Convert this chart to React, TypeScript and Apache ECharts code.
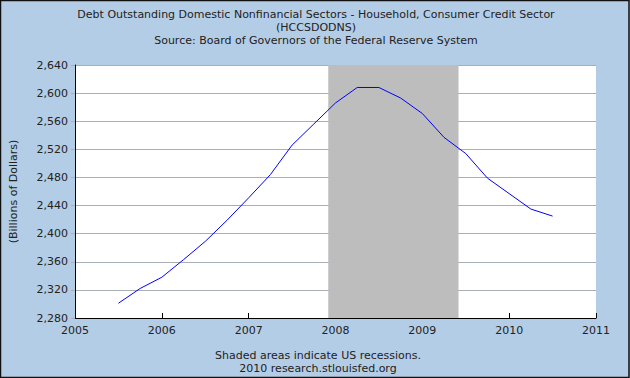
import React, { useEffect, useRef } from "react";
import * as echarts from "echarts";

const titleLines = [
  "Debt Outstanding Domestic Nonfinancial Sectors - Household, Consumer Credit Sector",
  "(HCCSDODNS)",
  "Source: Board of Governors of the Federal Reserve System",
];
const footerLines = ["Shaded areas indicate US recessions.", "2010 research.stlouisfed.org"];
const yAxisName = "(Billions of Dollars)";

const dates = [
  "2005-07-01", "2005-10-01", "2006-01-01", "2006-04-01", "2006-07-01", "2006-10-01",
  "2007-01-01", "2007-04-01", "2007-07-01", "2007-10-01", "2008-01-01", "2008-04-01",
  "2008-07-01", "2008-10-01", "2009-01-01", "2009-04-01", "2009-07-01", "2009-10-01",
  "2010-01-01", "2010-04-01", "2010-07-01",
];
const values = [
  2301, 2322, 2338, 2363, 2389, 2419, 2451, 2484, 2526, 2556, 2586, 2608, 2608, 2593,
  2571, 2537, 2514, 2479, 2457, 2435, 2425,
];
const recessions = [["2007-12-01", "2009-06-01"]];
const xMin = 2005;
const xMax = 2011;
const yMin = 2280;
const yMax = 2640;
const yStep = 40;

function toYear(s: string): number {
  const [y, m, d] = s.split("-").map(Number);
  return y + (m - 1) / 12 + (d - 1) / 365;
}

const font = "DejaVu Sans, Verdana, sans-serif";

export default function App() {
  const ref = useRef<HTMLDivElement>(null);
  useEffect(() => {
    if (!ref.current) return;
    const chart = echarts.init(ref.current, undefined, { renderer: "svg" });
    chart.setOption({
      animation: false,
      backgroundColor: "#B4CDE6",
      textStyle: { fontFamily: font },
      grid: {
        left: 66,
        top: 65,
        right: 34,
        bottom: 60,
        containLabel: false,
        show: true,
        backgroundColor: "#FFFFFF",
        borderWidth: 0,
      },
      xAxis: {
        type: "value",
        min: xMin,
        max: xMax,
        interval: 1,
        axisLine: { show: true, onZero: false, lineStyle: { color: "#000", width: 1 } },
        axisTick: { show: true, inside: true, length: 5, lineStyle: { color: "#000" } },
        splitLine: { show: false },
        axisLabel: { color: "#222", fontSize: 11, fontFamily: font, margin: 7, formatter: (v: number) => String(v) },
      },
      yAxis: {
        type: "value",
        min: yMin,
        max: yMax,
        interval: yStep,
        name: yAxisName,
        nameLocation: "middle",
        nameGap: 56,
        nameTextStyle: { color: "#222", fontSize: 11, fontFamily: font },
        axisLine: { show: true, lineStyle: { color: "#000", width: 1 } },
        axisTick: { show: true, length: 4, lineStyle: { color: "#A9AEB6" } },
        splitLine: { show: true, lineStyle: { color: "#A9AEB6", width: 1 } },
        axisLabel: {
          color: "#222",
          fontSize: 11,
          fontFamily: font,
          margin: 7,
          formatter: (v: number) => v.toLocaleString("en-US"),
        },
      },
      series: [
        {
          type: "line",
          data: dates.map((d, i) => [toYear(d), values[i]]),
          showSymbol: false,
          symbol: "none",
          lineStyle: { color: "#0000FF", width: 1 },
          z: 3,
          markArea: {
            silent: true,
            itemStyle: { color: "#BDBDBD" },
            data: recessions.map(([a, b]) => [{ xAxis: toYear(a) }, { xAxis: toYear(b) }]),
          },
        },
      ],
      graphic: [
        ...titleLines.map((t, i) => ({
          type: "text",
          x: 316,
          y: 14 + i * 13,
          style: { text: t, fill: "#222", font: `11px ${font}`, textAlign: "center", textVerticalAlign: "middle" },
        })),
        ...footerLines.map((t, i) => ({
          type: "text",
          x: 318,
          y: 355 + i * 13,
          style: { text: t, fill: "#222", font: `11px ${font}`, textAlign: "center", textVerticalAlign: "middle" },
        })),
        {
          type: "rect",
          shape: { x: 0.5, y: 0.5, width: 628.5, height: 377 },
          style: { fill: "none", stroke: "#111", lineWidth: 1.5 },
          silent: true,
        },
      ],
    });
    return () => chart.dispose();
  }, []);
  return (
    <div
      ref={ref}
      style={{ position: "absolute", left: 0, top: 0, width: 630, height: 378 }}
    />
  );
}
